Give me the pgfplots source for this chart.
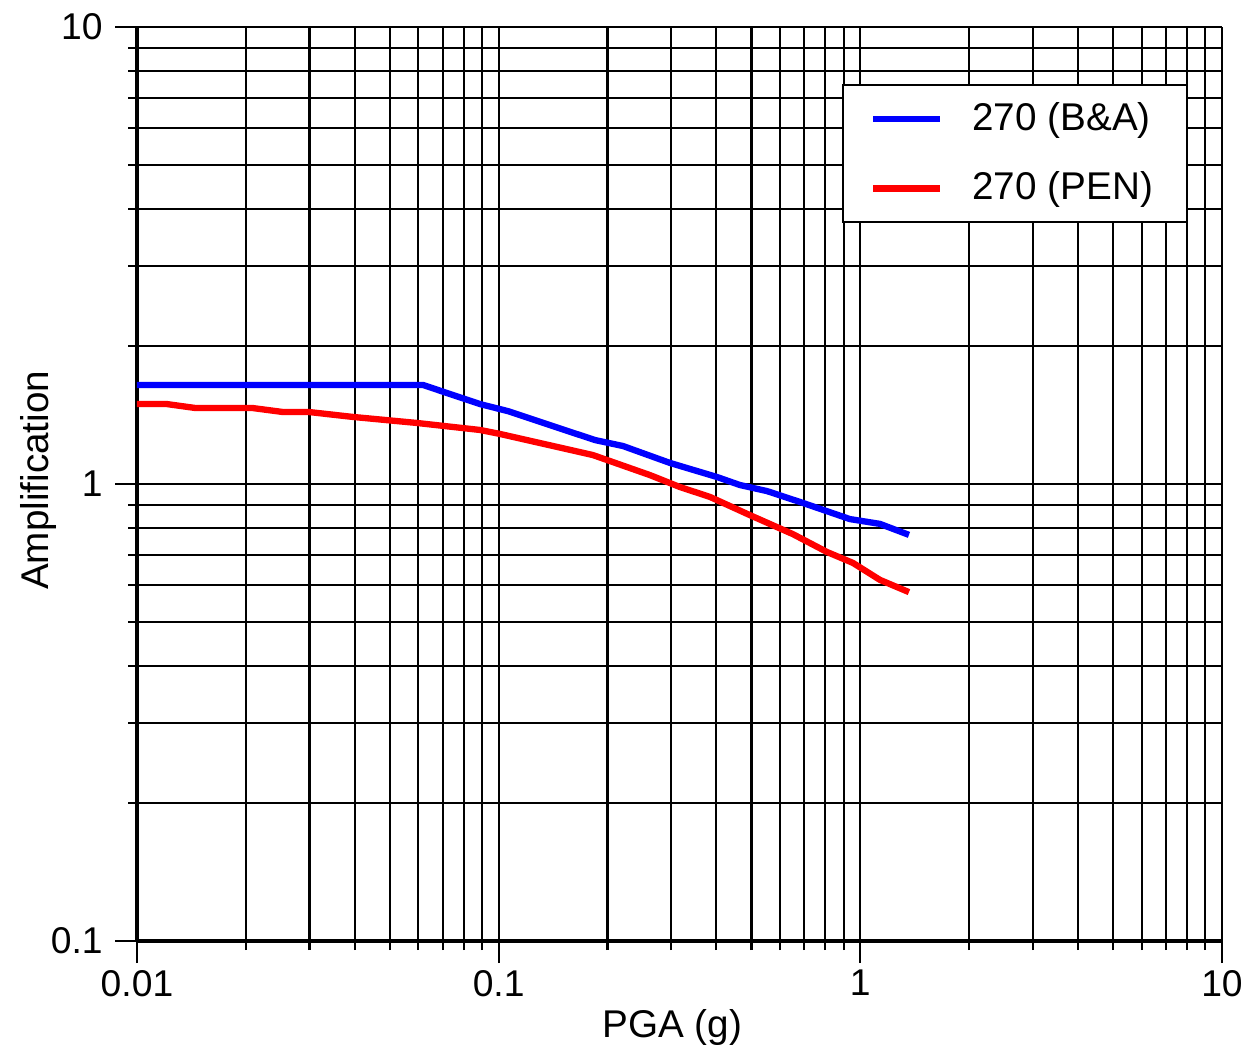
\documentclass[border=0pt]{standalone}
\usepackage{pgfplots}
\pgfplotsset{compat=1.18}
\usepackage{fontspec}
\setmainfont{Liberation Sans}
\begin{document}
\begin{tikzpicture}
\begin{loglogaxis}[
  name=ax,
  scale only axis,
  width=108.5mm, height=91.4mm,
  xmin=0.01, xmax=10, ymin=0.1, ymax=10,
  axis x line*=bottom, axis y line*=left,
  axis line style={-, line width=1pt, black},
  xtick={0.01,0.1,1,10}, xticklabels={0.01,0.1,1,10},
  ytick={0.1,1,10}, yticklabels={0.1,1,10},
  tick align=outside,
  major tick length=2.2mm, minor tick length=0.9mm,
  tick style={black, line width=0.6pt},
  grid=both,
  major grid style={black, line width=0.6pt},
  minor grid style={black, line width=0.6pt},
  ticklabel style={font=\fontsize{10.6}{12}\selectfont},
  xticklabel style={yshift=1.5pt},
  label style={font=\fontsize{11}{13}\selectfont},
  xlabel={PGA (g)}, ylabel={Amplification},
  xlabel style={at={(axis description cs:0.4935,-0.1061)}, anchor=base},
  ylabel style={at={(axis description cs:-0.0820,0.504)}, anchor=base},
  legend style={at={(0.9687,0.9376)}, anchor=north east, draw=black, line width=0.6pt,
    font=\fontsize{11}{13}\selectfont, inner xsep=2.7mm, inner ysep=1.7mm,
    row sep=10.4pt, column sep=2.9mm, nodes={inner sep=0pt}},
  legend cell align=left,
  legend image code/.code={\draw[#1] (0mm,0mm) -- (6.7mm,0mm);},
]
\addplot[blue, line width=1.8pt] coordinates {
(0.01,1.647) (0.0618,1.647) (0.0888,1.496) (0.106,1.444) (0.1846,1.248) (0.2207,1.211)
(0.2977,1.112) (0.4014,1.036) (0.4645,0.995) (0.552,0.965) (0.694,0.909) (0.936,0.838)
(1.133,0.818) (1.363,0.774)};
\addlegendentry{270 (B\&A)\hspace*{0.7mm}}
\addplot[red, line width=1.8pt] coordinates {
(0.01,1.496) (0.0121,1.496) (0.01447,1.467) (0.0208,1.467) (0.0252,1.438) (0.0297,1.438)
(0.0396,1.402) (0.0595,1.360) (0.0888,1.313) (0.1008,1.287) (0.1823,1.157) (0.262,1.046)
(0.317,0.985) (0.384,0.937) (0.495,0.855) (0.651,0.777) (0.809,0.710) (0.954,0.672)
(1.133,0.617) (1.363,0.580)};
\addlegendentry{270 (PEN)\hspace*{0.7mm}}
\end{loglogaxis}
\pgfresetboundingbox
\path (ax.south west) ++(-13.7mm,-11.2mm) rectangle ([shift={(2.5mm,2.7mm)}]ax.north east);
\end{tikzpicture}
\end{document}
